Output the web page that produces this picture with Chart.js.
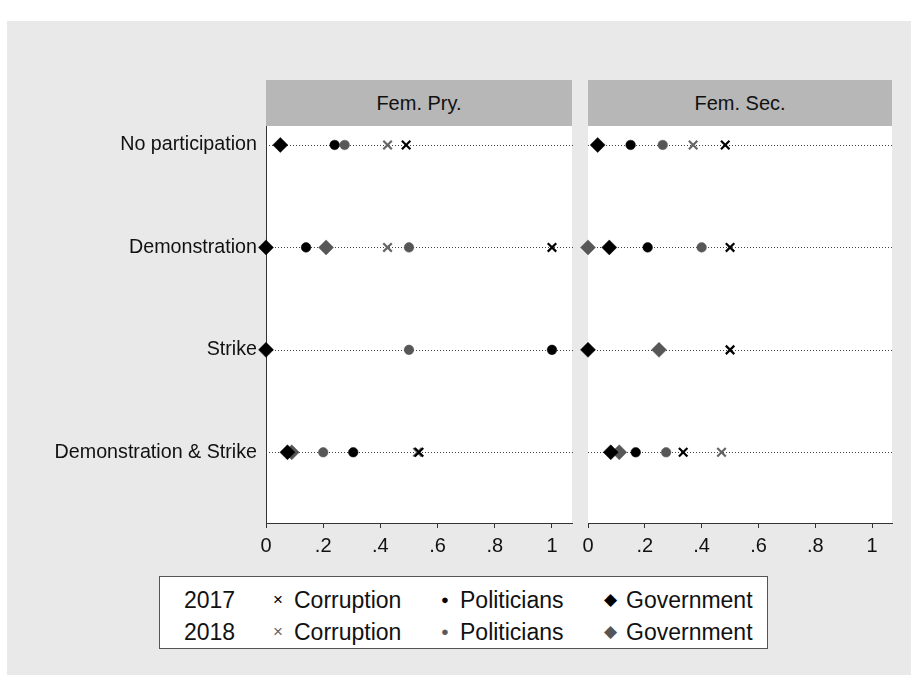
<!DOCTYPE html>
<html>
<head>
<meta charset="utf-8">
<script src="https://cdn.jsdelivr.net/npm/chart.js@4/dist/chart.umd.min.js"></script>
<style>
  html, body { margin: 0; padding: 0; background: #fff; }
  #wrap { position: relative; width: 911px; height: 675px; overflow: hidden; font-family: 'Liberation Sans', Arial, sans-serif; }
  #bg { position: absolute; left: 7px; top: 21px; right: 0; bottom: 0; background: #e9e9e9; }
  canvas { position: absolute; left: 0; top: 0; }
  .hdr { position: absolute; top: 80px; height: 46px; line-height: 46px; background: #b7b7b7; color: #111; font-size: 20px; text-align: center; }
  #legend { position: absolute; left: 159px; top: 576px; width: 607px; height: 71px; background: #fff; border: 1px solid #555; }
  .lg { position: absolute; font-size: 23px; line-height: 26px; color: #111; white-space: nowrap; }
  .sym { position: absolute; line-height: 26px; white-space: nowrap; text-align: center; width: 20px; }
</style>
</head>
<body>
<div id="wrap">
  <div id="bg"></div>
  <div class="hdr" style="left:266px;width:306px;">Fem. Pry.</div>
  <div class="hdr" style="left:588px;width:304px;">Fem. Sec.</div>
  <canvas id="left" width="911" height="675"></canvas>
  <canvas id="right" width="911" height="675"></canvas>
  <div id="legend">
    <div class="lg" style="left:24px;top:10px;">2017</div>
    <div class="sym" style="left:108px;top:10px;font-size:17px;color:#000;">&#215;</div>
    <div class="lg" style="left:134px;top:10px;">Corruption</div>
    <div class="sym" style="left:275px;top:10px;font-size:13px;color:#000;">&#9679;</div>
    <div class="lg" style="left:300px;top:10px;">Politicians</div>
    <div class="sym" style="left:440px;top:10px;font-size:17px;color:#000;">&#9670;</div>
    <div class="lg" style="left:466px;top:10px;">Government</div>

    <div class="lg" style="left:24px;top:42px;">2018</div>
    <div class="sym" style="left:108px;top:42px;font-size:17px;color:#666;">&#215;</div>
    <div class="lg" style="left:134px;top:42px;">Corruption</div>
    <div class="sym" style="left:275px;top:42px;font-size:13px;color:#5a5a5a;">&#9679;</div>
    <div class="lg" style="left:300px;top:42px;">Politicians</div>
    <div class="sym" style="left:440px;top:42px;font-size:17px;color:#555;">&#9670;</div>
    <div class="lg" style="left:466px;top:42px;">Government</div>
  </div>
</div>
<script>
// Response categories, top to bottom
const categories = ['No participation', 'Demonstration', 'Strike', 'Demonstration & Strike'];
const rowPositions = [1, 2, 3, 4];

// x-axis ticks (share of respondents)
const xTickValues = [0, 0.2, 0.4, 0.6, 0.8, 1];
const xTickLabels = ['0', '.2', '.4', '.6', '.8', '1'];

// Fem. Pry. panel
const pryCorruption2017  = [0.49, 1.00, null, 0.535];
const pryPoliticians2017 = [0.24, 0.14, 1.00, 0.305];
const pryGovernment2017  = [0.05, 0.00, 0.00, 0.075];
const pryCorruption2018  = [0.425, 0.425, null, 0.53];
const pryPoliticians2018 = [0.275, 0.50, 0.50, 0.20];
const pryGovernment2018  = [null, 0.21, null, 0.09];

// Fem. Sec. panel
const secCorruption2017  = [0.483, 0.50, 0.50, 0.335];
const secPoliticians2017 = [0.15, 0.21, null, 0.168];
const secGovernment2017  = [0.034, 0.075, 0.00, 0.08];
const secCorruption2018  = [0.37, null, null, 0.47];
const secPoliticians2018 = [0.263, 0.40, null, 0.275];
const secGovernment2018  = [null, 0.00, 0.25, 0.11];

const X_MAX = 1.07;
const Y_MIN = 0.815;
const Y_MAX = 4.69;

Chart.defaults.font.family = "'Liberation Sans', Arial, sans-serif";
Chart.defaults.color = '#111';

function points(values) {
  const out = [];
  values.forEach((v, i) => { if (v !== null) out.push({ x: v, y: rowPositions[i] }); });
  return out;
}

const BLACK = '#000';
const GREY_X = '#666';
const GREY = '#575757';

function series(corr17, pol17, gov17, corr18, pol18, gov18) {
  // earlier datasets are painted last, so 2017 sits on top of 2018
  const cross = (data, c) => ({ data, pointStyle: 'crossRot', pointRadius: 6, borderColor: c, backgroundColor: c, pointBorderWidth: 2.2, clip: false });
  const dot = (data, c) => ({ data, pointStyle: 'circle', pointRadius: 4.8, borderColor: c, backgroundColor: c, pointBorderWidth: 0.5, clip: false });
  const diamond = (data, c) => ({ data, pointStyle: 'rectRot', pointRadius: 7.5, borderColor: c, backgroundColor: c, pointBorderWidth: 0.5, clip: false });
  return [
    cross(points(corr17), BLACK),
    dot(points(pol17), BLACK),
    diamond(points(gov17), BLACK),
    cross(points(corr18), GREY_X),
    dot(points(pol18), GREY),
    diamond(points(gov18), GREY)
  ];
}

// white plot region and dotted row guides
const panelBackdrop = {
  id: 'panelBackdrop',
  beforeDraw(chart) {
    const { ctx, chartArea: a } = chart;
    ctx.save();
    ctx.fillStyle = '#fff';
    ctx.fillRect(a.left, a.top, a.right - a.left, a.bottom - a.top);
    ctx.restore();
  },
  beforeDatasetsDraw(chart) {
    const { ctx, chartArea: a, scales } = chart;
    ctx.save();
    ctx.strokeStyle = '#444';
    ctx.lineWidth = 1;
    ctx.setLineDash([1, 2]);
    rowPositions.forEach(r => {
      const y = Math.round(scales.y.getPixelForValue(r)) + 0.5;
      ctx.beginPath();
      ctx.moveTo(a.left, y);
      ctx.lineTo(a.right + 2, y);
      ctx.stroke();
    });
    ctx.restore();
  }
};

function panelOptions(showLabels, areaLeft, areaRight) {
  return {
    responsive: false,
    animation: false,
    events: [],
    layout: { padding: { left: 0, top: 126, right: 911 - areaRight, bottom: 0 } },
    plugins: { legend: { display: false }, tooltip: { enabled: false } },
    scales: {
      x: {
        type: 'linear', min: 0, max: X_MAX,
        afterBuildTicks: s => { s.ticks = xTickValues.map(v => ({ value: v })); },
        ticks: { callback: (v, i) => xTickLabels[i], color: '#111', font: { size: 20 }, padding: 6, maxRotation: 0, autoSkip: false },
        grid: { drawOnChartArea: false, drawTicks: true, tickLength: 5, tickColor: '#333', tickWidth: 1 },
        border: { display: true, color: '#333', width: 1 },
        afterFit: s => { s.height = 152; }
      },
      y: {
        type: 'linear', reverse: true, min: Y_MIN, max: Y_MAX,
        afterBuildTicks: s => { s.ticks = rowPositions.map(v => ({ value: v })); },
        ticks: { display: showLabels, callback: (v, i) => categories[i], color: '#111', font: { size: 19.7 }, padding: 9, autoSkip: false },
        grid: { display: false, drawTicks: false },
        border: { display: showLabels, color: '#333', width: 1 },
        afterFit: s => { s.width = areaLeft; }
      }
    }
  };
}

new Chart(document.getElementById('left'), {
  type: 'scatter',
  data: { datasets: series(pryCorruption2017, pryPoliticians2017, pryGovernment2017, pryCorruption2018, pryPoliticians2018, pryGovernment2018) },
  options: panelOptions(true, 266, 572),
  plugins: [panelBackdrop]
});

new Chart(document.getElementById('right'), {
  type: 'scatter',
  data: { datasets: series(secCorruption2017, secPoliticians2017, secGovernment2017, secCorruption2018, secPoliticians2018, secGovernment2018) },
  options: panelOptions(false, 588, 892),
  plugins: [panelBackdrop]
});
</script>
</body>
</html>
